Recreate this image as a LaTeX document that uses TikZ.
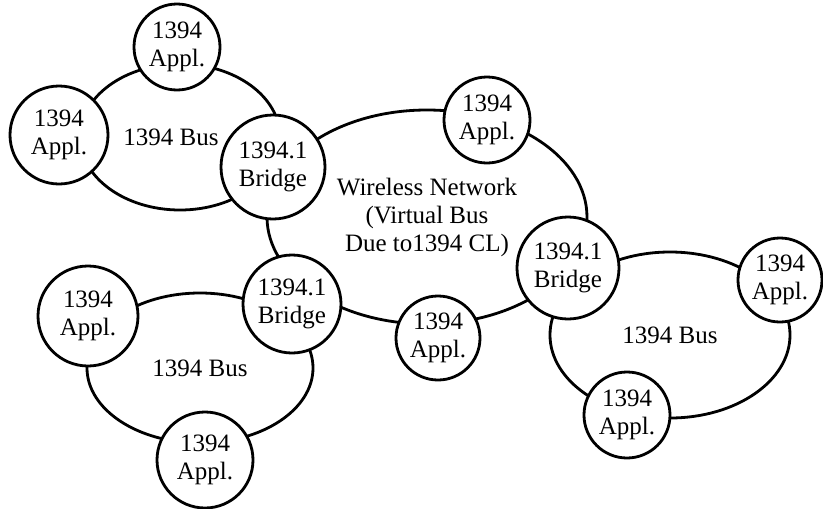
\documentclass[tikz,border=0pt]{standalone}
\usepackage{fontspec}
\setmainfont{Liberation Serif}
\usetikzlibrary{shapes.geometric}
\tikzset{
  busring/.style={ellipse, draw, line width=2.8pt, inner sep=0pt, align=center},
  appl/.style={circle, draw, fill=white, line width=2.8pt, inner sep=0pt,
               minimum size=86pt, align=center},
  bridge/.style={appl, minimum size=102pt},
}
\begin{document}
\begin{tikzpicture}[x=1pt,y=-1pt,font=\fontsize{25}{28}\selectfont]
\useasboundingbox (0,0) rectangle (823,509);
% the buses
\node[busring, minimum width=200pt, minimum height=146pt,
      label={[xshift=-9pt]center:1394 Bus}] (busA) at (180,137) {};
\node[busring, minimum width=320pt, minimum height=214pt] (wlan) at (427,217)
  {Wireless Network\\(Virtual Bus\\Due to1394 CL)};
\node[busring, minimum width=226pt, minimum height=150pt] (busB) at (200,368) {1394 Bus};
\node[busring, minimum width=240pt, minimum height=166pt] (busC) at (670,335) {1394 Bus};
% devices on the buses
\node[appl] (appA1) at (177,47) {1394\\Appl.};
\node[appl, minimum size=98pt] (appA2) at (59,135) {1394\\Appl.};
\node[bridge, minimum size=104pt] (brA) at (273,167) {1394.1\\Bridge};
\node[appl] (appW1) at (487,120) {1394\\Appl.};
\node[bridge] (brC) at (568,268) {1394.1\\Bridge};
\node[appl, minimum size=84pt] (appW2) at (438,338) {1394\\Appl.};
\node[bridge, minimum size=98pt] (brB) at (292,304) {1394.1\\Bridge};
\node[appl, minimum size=100pt] (appB1) at (88,316) {1394\\Appl.};
\node[appl, minimum size=96pt] (appB2) at (205,460) {1394\\Appl.};
\node[appl, minimum size=84pt] (appC1) at (780,280) {1394\\Appl.};
\node[appl] (appC2) at (627,415) {1394\\Appl.};
\end{tikzpicture}
\end{document}
